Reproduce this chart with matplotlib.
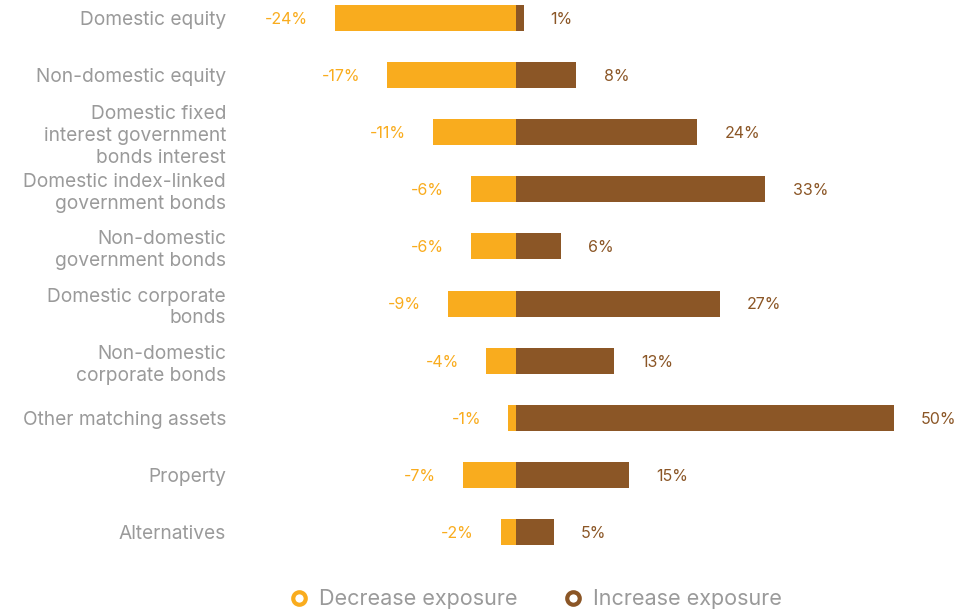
import numpy as np
import matplotlib.pyplot as plt
from matplotlib.lines import Line2D

categories = [
    "Domestic equity",
    "Non-domestic equity",
    "Domestic fixed\ninterest government\nbonds interest",
    "Domestic index-linked\ngovernment bonds",
    "Non-domestic\ngovernment bonds",
    "Domestic corporate\nbonds",
    "Non-domestic\ncorporate bonds",
    "Other matching assets",
    "Property",
    "Alternatives",
]
decrease = [-24, -17, -11, -6, -6, -9, -4, -1, -7, -2]
increase = [1, 8, 24, 33, 6, 27, 13, 50, 15, 5]

ORANGE = "#F9AC1E"
BROWN = "#8B5626"
GREY = "#9A9A9A"

plt.rcParams['font.family'] = ['Inter', 'DejaVu Sans']

fig = plt.figure(figsize=(9.79, 6.09), dpi=100)
ax = fig.add_axes([240/979, 1 - 560/609, 700/979, 560/609])

y = np.arange(len(categories))
h = 0.455
ax.barh(y, decrease, height=h, color=ORANGE)
ax.barh(y, increase, height=h, color=BROWN)

for yi, d, i in zip(y, decrease, increase):
    ax.annotate("%d%%" % d, (d, yi), xytext=(-19.5, -1), textcoords='offset points',
                ha='right', va='center', fontsize=11.5, color=ORANGE)
    ax.annotate("%d%%" % i, (i, yi), xytext=(19.5, -1), textcoords='offset points',
                ha='left', va='center', fontsize=11.5, color=BROWN)

ax.set_xlim(-36.5, 56.08)
ax.set_ylim(9.49, -0.315)
ax.set_yticks(y)
ax.set_yticklabels(categories, fontsize=13.8, color=GREY, linespacing=1.28)
ax.tick_params(axis='y', length=0, pad=10)
ax.set_xticks([])
for s in ax.spines.values():
    s.set_visible(False)

handles = [
    Line2D([], [], marker='o', linestyle='none', markersize=9, markeredgewidth=3,
           markerfacecolor='white', markeredgecolor=ORANGE, label='Decrease exposure'),
    Line2D([], [], marker='o', linestyle='none', markersize=9, markeredgewidth=3,
           markerfacecolor='white', markeredgecolor=BROWN, label='Increase exposure'),
]
leg = fig.legend(handles=handles, loc='center', bbox_to_anchor=(534/979, 0.016), ncol=2,
                 frameon=False, fontsize=15.5, handletextpad=0.3, columnspacing=2.0,
                 handlelength=1.2)
for t in leg.get_texts():
    t.set_color(GREY)

fig.savefig("out.png", dpi=100)
